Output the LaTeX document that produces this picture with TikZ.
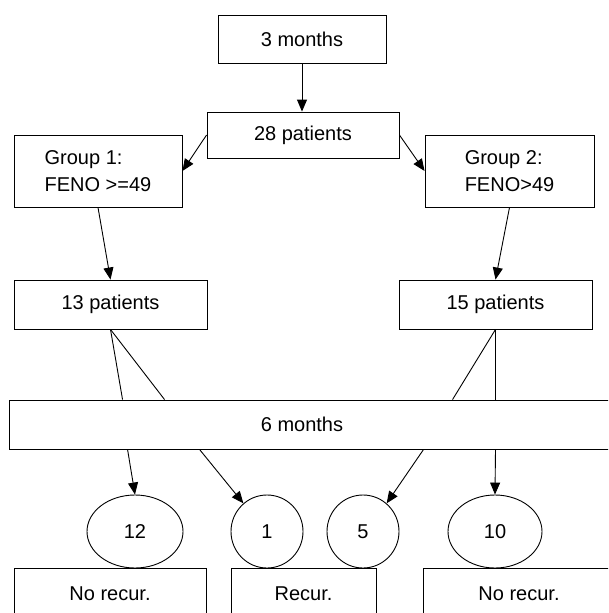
\documentclass[tikz,border=0pt]{standalone}
\usepackage{fontspec}
\setmainfont{Liberation Sans}
\usetikzlibrary{arrows.meta,shapes.geometric}

\begin{document}
\begin{tikzpicture}[x=1pt,y=-1pt,
    box/.style={draw,line width=0.9pt,inner sep=0pt,font=\fontsize{20}{27}\selectfont},
    oval/.style={draw,ellipse,line width=0.9pt,inner sep=0pt,minimum height=73pt,font=\fontsize{20}{27}\selectfont},
    arr/.style={-{Triangle[length=12pt,width=10pt]},line width=0.9pt},
    lin/.style={line width=0.9pt}]
  \useasboundingbox (0,0) rectangle (608,613);
  \clip (0,0) rectangle (608,613);
  % top part
  \node[box,minimum width=168pt,minimum height=48pt] (m3) at (302,39) {3 months};
  \node[box,minimum width=192pt,minimum height=46pt] (p28) at (303,135) {28 patients};
  \node[box,minimum width=168pt,minimum height=72pt,align=left] (g1) at (98,171) {Group 1:\\FENO >=49};
  \node[box,minimum width=169pt,minimum height=72pt,align=left] (g2) at (509.5,171) {Group 2:\\FENO>49};
  \node[box,minimum width=193pt,minimum height=49pt] (p13) at (110.5,304.5) {13 patients};
  \node[box,minimum width=193pt,minimum height=49pt] (p15) at (495.5,304.5) {15 patients};
  % follow-up
  \node[box,minimum width=606pt,minimum height=49pt] (m6) at (312,424.5) {\hspace*{-20pt}6 months};
  \node[oval,minimum width=96pt] (e12) at (135,531.5) {12};
  \node[oval,minimum width=72pt] (e1) at (267,531.5) {1};
  \node[oval,minimum width=72pt] (e5) at (363,531.5) {5};
  \node[oval,minimum width=94pt] (e10) at (495,531.5) {10};
  \node[box,minimum width=192pt,minimum height=52pt] (nr1) at (110,594) {No recur.};
  \node[box,minimum width=145pt,minimum height=52pt] (rc) at (303.5,594) {Recur.};
  \node[box,minimum width=192pt,minimum height=52pt] (nr2) at (519,594) {No recur.};

  \draw[arr] (m3.south) -- (m3.south |- p28.north);
  \draw[arr] (p28.west) -- (g1.east);
  \draw[arr] (p28.east) -- (g2.west);
  \draw[arr] (g1.south) -- (p13.north);
  \draw[arr] (g2.south) -- (p15.north);
  \draw[lin] (p13.south) -- ([xshift=114pt]m6.north west);
  \draw[lin] (p13.south) -- ([xshift=156pt]m6.north west);
  \draw[lin] (p15.south) -- ([xshift=444pt]m6.north west);
  \draw[lin] (p15.south) -- (p15.south |- m6.north);
  \draw[arr] ([xshift=119pt]m6.south west) -- (e12.north);
  \draw[arr] ([xshift=191pt]m6.south west) -- (e1.130);
  \draw[arr] ([xshift=415pt]m6.south west) -- (e5.50);
  \draw[arr] (p15.south |- m6.south) -- (e10.north);
\end{tikzpicture}
\end{document}
